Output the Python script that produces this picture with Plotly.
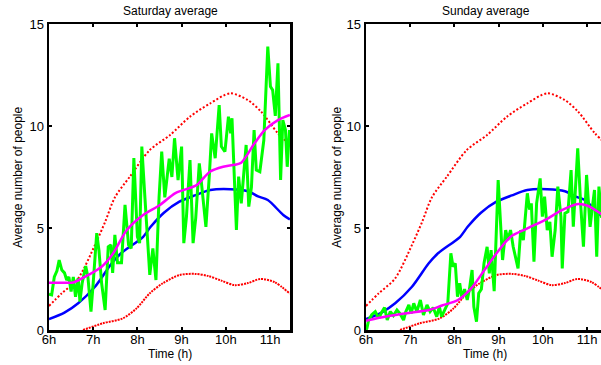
import plotly.graph_objects as go

# ---------------- data ----------------
tick_vals = [6, 7, 8, 9, 10, 11]
tick_text = ["6h", "7h", "8h", "9h", "10h", "11h"]
y_ticks = [0, 5, 10, 15]

# shared envelope and mean (same in both panels)
upper_h = [6.0, 6.29, 6.66, 7.04, 7.27, 7.49, 7.83, 8.28, 8.74, 9.19, 9.64, 10.1, 10.5, 10.8, 11.18, 11.45]
upper_v = [1.18, 1.8, 2.53, 4.17, 5.3, 6.5, 7.52, 8.82, 9.56, 10.46, 11.1, 11.6, 11.27, 10.7, 9.64, 9.07]

lower_h = [6.77, 7.22, 7.67, 7.98, 8.28, 8.58, 8.96, 9.3, 9.6, 9.9, 10.2, 10.5, 10.78, 11.1, 11.45]
lower_v = [0.0, 0.33, 0.57, 1.06, 1.8, 2.3, 2.7, 2.75, 2.65, 2.42, 2.2, 2.3, 2.5, 2.35, 1.78]

mean_h = [6.0, 6.35, 6.66, 7.04, 7.42, 7.63, 8.13, 8.3, 8.6, 8.95, 9.3, 9.65, 10.1, 10.5, 10.73, 10.95, 11.3, 11.45]
mean_v = [0.53, 0.85, 1.31, 2.12, 3.27, 3.76, 4.57, 5.06, 5.75, 6.29, 6.6, 6.86, 6.9, 6.8, 6.55, 6.37, 5.64, 5.42]

# Saturday
sat_h = [6.0, 6.06, 6.12, 6.18, 6.23, 6.29, 6.35, 6.40, 6.45, 6.50, 6.55, 6.60, 6.66, 6.70, 6.75,
         6.83, 6.88, 6.95, 7.00, 7.08, 7.13, 7.19, 7.27, 7.34, 7.40, 7.44, 7.49, 7.55, 7.64, 7.72,
         7.80, 7.86, 7.92, 8.00, 8.05, 8.10, 8.17, 8.28, 8.35, 8.42, 8.49, 8.55, 8.62, 8.72, 8.78,
         8.84, 8.92, 9.00, 9.05, 9.11, 9.19, 9.26, 9.32, 9.40, 9.45, 9.55, 9.63, 9.68, 9.76, 9.85,
         9.90, 9.98, 10.06, 10.11, 10.14, 10.24, 10.29, 10.35, 10.40, 10.46, 10.52, 10.58, 10.64,
         10.69, 10.77, 10.86, 10.95, 11.01, 11.06, 11.12, 11.18, 11.24, 11.29, 11.35, 11.39, 11.44]
sat_v = [1.75, 1.72, 2.6, 2.9, 3.43, 2.94, 2.8, 2.45, 2.6, 1.88, 2.6, 1.63, 2.54, 1.39, 2.3,
         3.14, 2.6, 0.9, 2.3, 4.75, 3.9, 2.3, 0.98, 4.08, 4.17, 2.8, 4.66, 3.3, 3.3, 6.13,
         4.17, 4.0, 8.43, 4.57, 4.26, 8.99, 6.5, 2.7, 4.0, 2.45, 6.5, 8.74, 6.5, 8.4, 7.5,
         9.4, 7.35, 8.99, 4.26, 5.56, 8.33, 4.26, 5.5, 8.17, 7.19, 5.06, 7.68, 9.64, 8.42, 11.03,
         8.99, 8.74, 10.46, 9.64, 10.38, 4.9, 7.52, 6.21, 7.5, 9.07, 6.05, 7.0, 9.8,
         7.84, 7.76, 9.3, 13.89, 11.93, 11.76, 10.5, 13.07, 7.35, 10.29, 9.8, 8.0, 9.8]
sat_smooth_h = [6.0, 6.3, 6.55, 6.89, 7.19, 7.45, 7.76, 8.13, 8.51, 8.85, 9.04, 9.34, 9.64, 9.94,
                10.2, 10.35, 10.65, 10.88, 11.18, 11.45]
sat_smooth_v = [2.32, 2.32, 2.33, 2.7, 3.1, 3.75, 4.9, 5.64, 6.13, 6.7, 6.86, 7.1, 7.76, 8.0,
                8.1, 8.2, 9.15, 9.8, 10.29, 10.54]

# Sunday
sun_h = [6.00, 6.02, 6.06, 6.13, 6.21, 6.29, 6.35, 6.42, 6.48, 6.55, 6.62, 6.70, 6.77, 6.85, 6.90,
         6.97, 7.02, 7.08, 7.15, 7.23, 7.30, 7.38, 7.45, 7.52, 7.60, 7.66, 7.71, 7.78, 7.85, 7.92,
         7.97, 8.02, 8.07, 8.12, 8.17, 8.23, 8.29, 8.34, 8.40, 8.44, 8.50, 8.55, 8.61, 8.67, 8.74,
         8.79, 8.83, 8.90, 8.99, 9.09, 9.16, 9.21, 9.27, 9.33, 9.44, 9.50, 9.56, 9.65, 9.70, 9.74,
         9.80, 9.86, 9.94, 9.99, 10.04, 10.10, 10.16, 10.21, 10.28, 10.34, 10.41, 10.44, 10.50,
         10.57, 10.64, 10.69, 10.79, 10.86, 10.92, 10.99, 11.07, 11.12, 11.17, 11.22, 11.27, 11.33]
sun_v = [0.0, 0.08, 0.49, 0.75, 0.9, 0.57, 0.85, 1.1, 0.49, 0.9, 0.7, 0.98, 0.8, 0.49, 0.9,
         1.23, 0.8, 1.31, 0.9, 1.47, 0.74, 1.23, 0.9, 1.1, 0.65, 1.14, 0.65, 1.0, 1.3, 3.76,
         3.1, 3.27, 1.63, 2.29, 1.55, 2.0, 1.47, 2.0, 2.94, 1.14, 0.41, 1.8, 2.0, 3.27, 4.08,
         2.78, 3.92, 1.9, 7.35, 3.43, 4.9, 4.41, 4.9, 4.08, 3.02, 4.9, 4.41, 6.7, 5.9, 6.21,
         3.35, 6.21, 7.43, 5.56, 6.54, 4.9, 5.3, 3.59, 4.9, 7.03, 5.56, 3.02, 5.72,
         5.8, 7.84, 5.06, 8.9, 6.05, 4.08, 7.6, 5.06, 6.0, 6.86, 3.59, 7.03, 5.5]
sun_smooth_h = [6.0, 6.3, 6.66, 7.0, 7.42, 7.72, 8.08, 8.38, 8.68, 8.95, 9.27, 9.65, 10.1, 10.43,
                10.8, 11.03, 11.3, 11.45]
sun_smooth_v = [0.45, 0.6, 0.74, 0.85, 0.98, 1.2, 1.47, 2.04, 2.94, 3.75, 4.57, 4.98, 5.45, 5.88,
                6.18, 6.08, 5.72, 5.5]

titles = ["Saturday average", "Sunday average"]
x_title = "Time (h)"
y_title = "Average number of people"

# ---------------- figure ----------------
W, H = 601, 365
FONT = "Liberation Sans, Arial, Helvetica, sans-serif"

fig = go.Figure()

panels = [
    (sat_h, sat_v, sat_smooth_h, sat_smooth_v, "x", "y"),
    (sun_h, sun_v, sun_smooth_h, sun_smooth_v, "x2", "y2"),
]
for gh, gv, mh, mv, xa, ya in panels:
    fig.add_trace(go.Scatter(x=upper_h, y=upper_v, mode="lines", xaxis=xa, yaxis=ya, hoverinfo="skip",
                             line=dict(color="#ff0000", width=2, dash="2px,2px", shape="spline", smoothing=0.8)))
    fig.add_trace(go.Scatter(x=lower_h, y=lower_v, mode="lines", xaxis=xa, yaxis=ya, hoverinfo="skip",
                             line=dict(color="#ff0000", width=2, dash="2px,1px", shape="spline", smoothing=0.8)))
    fig.add_trace(go.Scatter(x=mean_h, y=mean_v, mode="lines", xaxis=xa, yaxis=ya, hoverinfo="skip",
                             line=dict(color="#0000ff", width=2.5, shape="spline", smoothing=0.8)))
    fig.add_trace(go.Scatter(x=gh, y=gv, mode="lines", xaxis=xa, yaxis=ya, hoverinfo="skip",
                             line=dict(color="#00ff00", width=3)))
    fig.add_trace(go.Scatter(x=mh, y=mv, mode="lines", xaxis=xa, yaxis=ya, hoverinfo="skip",
                             line=dict(color="#ff00ff", width=2.5, shape="spline", smoothing=0.8)))

def px_x(p):
    return p / W

def px_y(p):
    return 1 - p / H

y_dom = [px_y(330), px_y(24)]
common_x = dict(tickmode="array", tickvals=tick_vals, ticktext=tick_text, ticks="inside",
                ticklen=3, tickwidth=2, tickcolor="black", showline=True, linecolor="black",
                linewidth=2.5, showgrid=False, zeroline=False, mirror="ticks", automargin=False,
                ticklabelstandoff=-4,
                tickfont=dict(family=FONT, size=13, color="black"))
common_y = dict(tickmode="array", tickvals=y_ticks, ticks="inside", ticklen=3, tickwidth=2,
                tickcolor="black", showline=True, linecolor="black", linewidth=2.5,
                showgrid=False, zeroline=False, range=[0, 15], domain=y_dom, automargin=False,
                tickfont=dict(family=FONT, size=13, color="black"))

fig.update_layout(
    template="none",
    width=W, height=H, autosize=False,
    margin=dict(l=0, r=0, t=0, b=0, pad=0),
    paper_bgcolor="white", plot_bgcolor="white",
    showlegend=False, hovermode=False,
    xaxis=dict(common_x, domain=[px_x(49), px_x(290)], range=[6, 6 + (290 - 49) / 44.2], anchor="y"),
    yaxis=dict(common_y, mirror="ticks", anchor="x"),
    xaxis2=dict(common_x, domain=[px_x(366), 1.0], range=[6, 6 + (601 - 366) / 44.2], anchor="y2"),
    yaxis2=dict(common_y, mirror=False, anchor="x2"),
)

ann = []
for cx, tx in [(170, titles[0]), (486, titles[1])]:
    ann.append(dict(x=px_x(cx), y=px_y(11), xref="paper", yref="paper", text=tx, showarrow=False,
                    xanchor="center", yanchor="middle", font=dict(family=FONT, size=12, color="black")))
for cx in [170, 485]:
    ann.append(dict(x=px_x(cx), y=px_y(354), xref="paper", yref="paper", text=x_title, showarrow=False,
                    xanchor="center", yanchor="middle", font=dict(family=FONT, size=12, color="black")))
for cx in [18, 337]:
    ann.append(dict(x=px_x(cx), y=px_y(177), xref="paper", yref="paper", text=y_title, showarrow=False,
                    textangle=-90, xanchor="center", yanchor="middle",
                    font=dict(family=FONT, size=12, color="black")))
fig.update_layout(annotations=ann)

fig.write_html(
    "out.html",
    config={"displayModeBar": False, "staticPlot": True},
    post_script="document.body.style.margin='0';document.body.style.overflow='hidden';",
)
